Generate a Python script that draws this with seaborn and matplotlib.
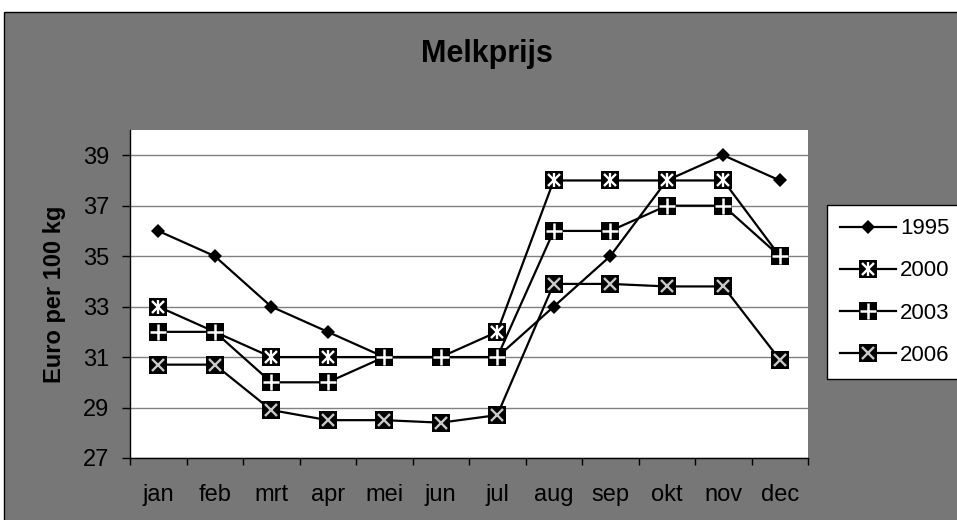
import pandas as pd
import seaborn as sns
import matplotlib.pyplot as plt
from matplotlib.patches import Rectangle
from matplotlib.ticker import FixedLocator

# -----------------------------
# Data
# -----------------------------
months = ["jan", "feb", "mrt", "apr", "mei", "jun", "jul", "aug", "sep", "okt", "nov", "dec"]
years = ["1995", "2000", "2003", "2006"]

price_1995 = [36, 35, 33, 32, 31, 31, 31, 33, 35, 38, 39, 38]
price_2000 = [33, 32, 31, 31, 31, 31, 32, 38, 38, 38, 38, 35]
price_2003 = [32, 32, 30, 30, 31, 31, 31, 36, 36, 37, 37, 35]
price_2006 = [30.7, 30.7, 28.9, 28.5, 28.5, 28.4, 28.7, 33.9, 33.9, 33.8, 33.8, 30.9]

y_ticks = [27, 29, 31, 33, 35, 37, 39]

series = dict(zip(years, [price_1995, price_2000, price_2003, price_2006]))

# -----------------------------
# Figure setup
# -----------------------------
plt.rcParams["font.family"] = ["Liberation Sans", "DejaVu Sans"]

W, H = 957, 520
fig = plt.figure(figsize=(W / 100, H / 100), dpi=100)
fig.patch.set_facecolor("white")

# gray chart area with black border (Excel style)
fig.patches.append(Rectangle((4 / W, -0.1), 1.1, 1 - 12 / H + 0.1,
                             transform=fig.transFigure, facecolor="#777777",
                             edgecolor="black", linewidth=1, zorder=-1))

ax = fig.add_axes([130 / W, 1 - 458 / H, (808 - 130) / W, (458 - 130) / H])
ax.set_zorder(1)
ax.set_facecolor("white")

GRAY_X = "#c8c8c8"
SQ = 12.5
# white/grey symbols drawn inside the black squares
inner_style = {
    "2000": [dict(marker="x", ms=8, mew=1.7, color="white"),
             dict(marker="|", ms=10, mew=1.7, color="white")],
    "2003": [dict(marker="+", ms=11, mew=1.8, color="white")],
    "2006": [dict(marker="x", ms=9, mew=1.7, color=GRAY_X)],
}

handles = []
for i, year in enumerate(years):
    vals = series[year]
    z = 2 + 2 * i
    if year == "1995":
        sns.lineplot(x=months, y=vals, ax=ax, color="black", lw=1.6,
                     marker="D", markersize=7.5, markeredgewidth=0, sort=False, zorder=z)
        handles.append(plt.Line2D([], [], color="black", lw=1.6, marker="D",
                                  markersize=7.5, markeredgewidth=0))
        continue
    sns.lineplot(x=months, y=vals, ax=ax, color="black", lw=1.6,
                 marker="s", markersize=SQ, markeredgewidth=0, sort=False, zorder=z)
    hs = [plt.Line2D([], [], color="black", lw=1.6, marker="s", markersize=SQ,
                     markeredgewidth=0)]
    for st in inner_style[year]:
        ax.plot(months, vals, ls="none", zorder=z + 1, **st)
        hs.append(plt.Line2D([], [], ls="none", **st))
    handles.append(tuple(hs))

# -----------------------------
# Axes styling
# -----------------------------
ax.set_xlim(-0.5, len(months) - 0.5)
ax.set_ylim(27, 40)
ax.set_yticks(y_ticks)
ax.yaxis.grid(True, color="#808080", lw=1)
ax.set_axisbelow(True)
ax.xaxis.set_minor_locator(FixedLocator([i - 0.5 for i in range(len(months) + 1)]))
ax.tick_params(axis="x", which="major", length=0, pad=19, labelsize=17)
ax.tick_params(axis="x", which="minor", length=5, width=1, direction="out", color="black")
ax.tick_params(axis="y", length=6, width=1, direction="out", color="black", pad=9, labelsize=17)
for side in ["top", "right"]:
    ax.spines[side].set_visible(False)
for side in ["left", "bottom"]:
    ax.spines[side].set_color("black")
    ax.spines[side].set_linewidth(1)

ax.set_xlabel("")
ax.set_ylabel("Euro per 100 kg", fontsize=17, fontweight="bold", labelpad=12)

fig.text(487 / W, 1 - 62 / H, "Melkprijs", ha="center", va="baseline",
         fontsize=22, fontweight="bold")

leg = fig.legend(handles, years, loc="upper left", bbox_to_anchor=(827 / W, 1 - 205 / H),
                 bbox_transform=fig.transFigure, frameon=True, fancybox=False,
                 fontsize=16, handlelength=2.5, handletextpad=0.2, labelspacing=0.95,
                 borderpad=0.6, borderaxespad=0)
leg.get_frame().set_edgecolor("black")
leg.get_frame().set_linewidth(1)
leg.get_frame().set_facecolor("white")
leg.get_frame().set_alpha(1)

fig.savefig("out.png", dpi=100)
